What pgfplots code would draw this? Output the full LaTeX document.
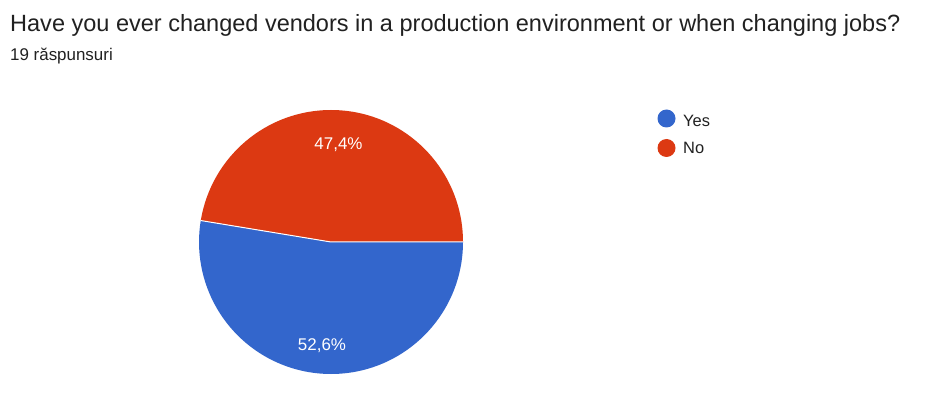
\documentclass[border=0pt]{standalone}
\usepackage{pgfplots}
\pgfplotsset{compat=1.18}
\usepackage{pgfplotstable}
\usepackage{fontspec}
\setmainfont{Liberation Sans}
\definecolor{gblue}{HTML}{3366CC}
\definecolor{gred}{HTML}{DC3912}
\definecolor{gtext}{HTML}{212121}
\pgfplotstableread{
label value
Yes 52.6
No 47.4
}\piedata
\pgfplotstablegetelem{0}{value}\of\piedata
\let\vyes\pgfplotsretval
\pgfplotstablegetelem{1}{value}\of\piedata
\let\vno\pgfplotsretval
\pgfmathsetmacro\ayes{-3.6*\vyes}
\pgfmathsetmacro\ano{3.6*\vno}
\begin{document}
\begin{tikzpicture}
\begin{axis}[scale only axis, width=926bp, height=400bp,
  xmin=0, xmax=926, ymin=0, ymax=400, hide axis, clip=false]
\fill[white] (axis cs:0,0) rectangle (axis cs:926,400);
% pie
\fill[gblue] (axis cs:331,158) -- (axis cs:463,158) arc[start angle=0, end angle=\ayes, radius=132bp] -- cycle;
\fill[gred] (axis cs:331,158) -- (axis cs:463,158) arc[start angle=0, end angle=\ano, radius=132bp] -- cycle;
\draw[white, line width=1bp] (axis cs:463,158) -- (axis cs:331,158) -- ++(\ayes:132bp);
% labels
\node[white, font=\fontsize{17}{20}\selectfont, anchor=base] at (axis cs:338.5,251) {47,4\%};
\node[white, font=\fontsize{17}{20}\selectfont, anchor=base] at (axis cs:322,50) {52,6\%};
% title
\node[gtext, font=\fontsize{23.6}{27}\selectfont, anchor=base west, inner sep=0pt] at (axis cs:10,369) {Have you ever changed vendors in a production environment or when changing jobs?};
\node[gtext, font=\fontsize{17}{20}\selectfont, anchor=base west, inner sep=0pt] at (axis cs:10,340) {19 răspunsuri};
% legend
\fill[gblue] (axis cs:666.5,281.5) circle[radius=9bp];
\fill[gred] (axis cs:666.5,252) circle[radius=9bp];
\node[gtext, font=\fontsize{16.5}{20}\selectfont, anchor=base west, inner sep=0pt] at (axis cs:683,274) {Yes};
\node[gtext, font=\fontsize{16.5}{20}\selectfont, anchor=base west, inner sep=0pt] at (axis cs:683,246.5) {No};
\end{axis}
\end{tikzpicture}
\end{document}
